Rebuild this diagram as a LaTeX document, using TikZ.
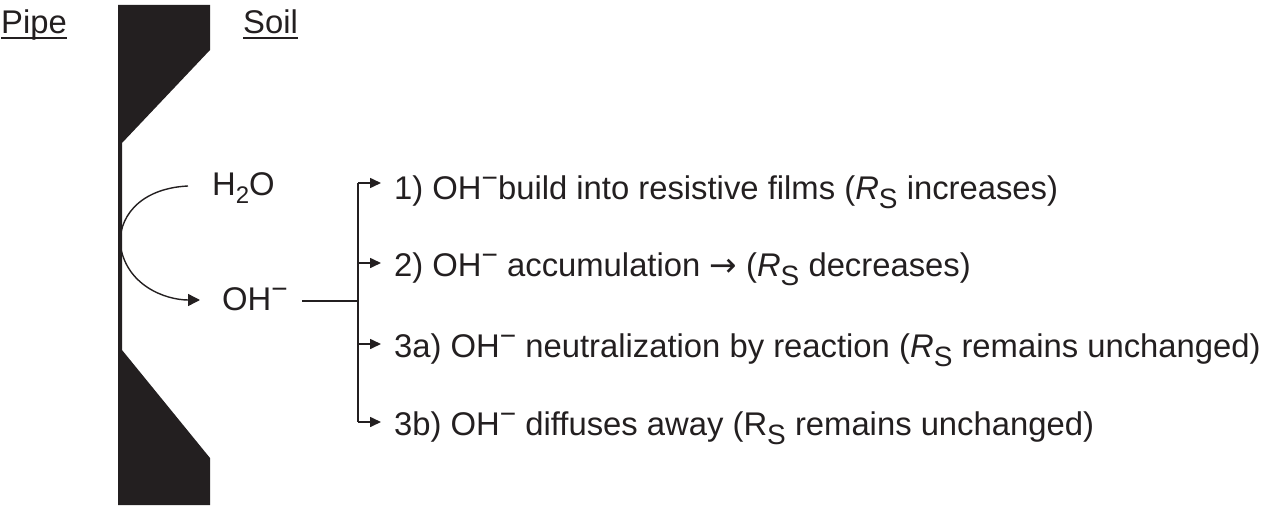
\documentclass[tikz,border=0pt]{standalone}
\usepackage{fontspec}
\setmainfont{Liberation Sans}
\newfontfamily\arrfont{DejaVu Sans}
\usetikzlibrary{arrows.meta}
\definecolor{ink}{HTML}{231F20}
\newcommand{\mneg}{{\fontsize{28}{28}\selectfont\raisebox{0.4em}{−}}}
\newcommand{\subS}{\raisebox{-0.28em}{\fontsize{28}{28}\selectfont S}}
\newcommand{\RSi}{\textit{R}\subS}
\newcommand{\RSu}{R\subS}
\newcommand{\rarr}{{\arrfont →}}
\begin{document}
\begin{tikzpicture}[x=1pt,y=-1pt,
  lbl/.style={inner sep=0pt,anchor=base west,text=ink,font=\fontsize{32.8}{38}\selectfont},
  arr/.style={-{Triangle[length=11pt,width=10pt]},line width=1.6pt,draw=ink},
  brk/.style={line width=1.6pt,draw=ink},
  uline/.style={line width=1.4pt,draw=ink}]
\useasboundingbox (0,0) rectangle (1271,508);
% pipe wall
\fill[ink] (118,5) -- (210,5) -- (210,50) -- (122,143) -- (122,350) -- (210,458) -- (210,505) -- (118,505) -- cycle;
% headings
\node[lbl] (pipe) at (1,34) {Pipe};
\node[lbl] (soil) at (243,34) {Soil};
\draw[uline] ([yshift=-4pt]pipe.base west) -- ([yshift=-4pt]pipe.base east);
\draw[uline] ([yshift=-4pt]soil.base west) -- ([yshift=-4pt]soil.base east);
% species
\node[lbl] (h2o) at (212,195) {H\raisebox{-0.27em}{\fontsize{24}{24}\selectfont 2}O};
\node[lbl] (oh) at (222,310) {OH\mneg};
\coordinate (hs) at (188,186);
\coordinate (wall) at (120,243);
\coordinate (ot) at (200,300);
\draw[ink,line width=1.4pt,-{Triangle[length=12pt,width=12pt]}] (hs) .. controls (145,188) and (120,212) .. (wall) .. controls (125,285) and (165,300) .. (ot);
% bracket
\coordinate (ls) at (302,301);
\coordinate (j) at (358,301);
\coordinate (b1) at (358,183);
\coordinate (b2) at (358,263);
\coordinate (b3) at (358,344);
\coordinate (b4) at (358,422);
\draw[brk] (ls) -- (j);
\draw[brk] (b1) -- (b4);
\foreach \b in {b1,b2,b3,b4} \draw[arr] (\b) -- ++(23,0);
% outcomes
\node[lbl] (t1) at (394,199) {1) OH\mneg build into resistive films (\RSi\ increases)};
\node[lbl] (t2) at (394,276) {2) OH\mneg\ accumulation \rarr\ (\RSi\ decreases)};
\node[lbl] (t3) at (394,357) {3a) OH\mneg\ neutralization by reaction (\RSi\ remains unchanged)};
\node[lbl] (t4) at (394,435) {3b) OH\mneg\ diffuses away (\RSu\ remains unchanged)};
\end{tikzpicture}
\end{document}
